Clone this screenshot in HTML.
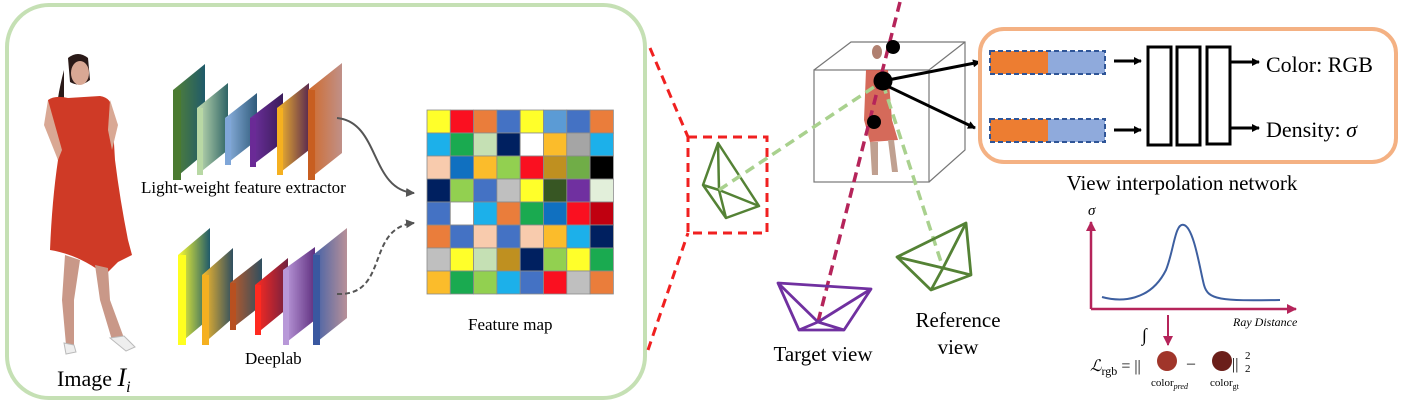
<!DOCTYPE html>
<html><head><meta charset="utf-8"><style>
html,body{margin:0;padding:0;background:#fff;}
svg{display:block;}
text{font-family:"Liberation Serif",serif;}
</style></head><body>
<svg width="1402" height="409" viewBox="0 0 1402 409" xmlns="http://www.w3.org/2000/svg">
<defs>
<linearGradient id="g1" x1="0" x2="1"><stop offset="0" stop-color="#548235"/><stop offset="1" stop-color="#1f5a6a"/></linearGradient>
<linearGradient id="g2" x1="0" x2="1"><stop offset="0" stop-color="#c5e0b4"/><stop offset="1" stop-color="#2f6466"/></linearGradient>
<linearGradient id="g3" x1="0" x2="1"><stop offset="0" stop-color="#8fb4e3"/><stop offset="1" stop-color="#2f5b7a"/></linearGradient>
<linearGradient id="g4" x1="0" x2="1"><stop offset="0" stop-color="#7030a0"/><stop offset="1" stop-color="#3a1c5a"/></linearGradient>
<linearGradient id="g5" x1="0" x2="1"><stop offset="0" stop-color="#fbbc2b"/><stop offset="1" stop-color="#5a2a50"/></linearGradient>
<linearGradient id="g6" x1="0" x2="1"><stop offset="0" stop-color="#d06a2a"/><stop offset="1" stop-color="#c09088"/></linearGradient>
<linearGradient id="h1" x1="0" x2="1"><stop offset="0" stop-color="#ffff30"/><stop offset="1" stop-color="#1f5a6a"/></linearGradient>
<linearGradient id="h2" x1="0" x2="1"><stop offset="0" stop-color="#fbbc2b"/><stop offset="1" stop-color="#2f4f60"/></linearGradient>
<linearGradient id="h3" x1="0" x2="1"><stop offset="0" stop-color="#c05a28"/><stop offset="1" stop-color="#2f4f60"/></linearGradient>
<linearGradient id="h4" x1="0" x2="1"><stop offset="0" stop-color="#ff2a20"/><stop offset="1" stop-color="#702040"/></linearGradient>
<linearGradient id="h5" x1="0" x2="1"><stop offset="0" stop-color="#c0a0e0"/><stop offset="1" stop-color="#603080"/></linearGradient>
<linearGradient id="h6" x1="0" x2="1"><stop offset="0" stop-color="#4060a8"/><stop offset="1" stop-color="#b89098"/></linearGradient>
<marker id="ab" markerWidth="8" markerHeight="8" refX="7" refY="4" orient="auto" markerUnits="userSpaceOnUse"><path d="M0,0 L8,4 L0,8 z" fill="#000"/></marker>
<marker id="ag" markerWidth="9" markerHeight="9" refX="8" refY="4.5" orient="auto" markerUnits="userSpaceOnUse"><path d="M0,0 L9,4.5 L0,9 z" fill="#555"/></marker>
<marker id="ar" markerWidth="10" markerHeight="10" refX="9" refY="5" orient="auto" markerUnits="userSpaceOnUse"><path d="M0,0 L10,5 L0,10 z" fill="#b5245a"/></marker>
</defs>

<!-- green panel -->
<rect x="7" y="5" width="638" height="393" rx="42" fill="none" stroke="#c5e0b4" stroke-width="4"/>

<!-- woman -->
<g>
<path d="M68,58 Q78,50 88,58 L90,80 Q80,88 70,82 Z" fill="#2a1a18"/>
<path d="M64,70 Q60,85 58,98 L64,98 Z" fill="#2a1a18"/>
<ellipse cx="80" cy="73" rx="9" ry="12" fill="#d9a894"/>
<path d="M48,100 Q55,95 68,98 L100,96 Q112,98 112,110 L115,160 Q120,200 128,240 L132,255 L118,262 L105,275 Q80,255 50,250 Q52,200 58,160 Q48,130 48,100 Z" fill="#cf3a26"/>
<path d="M48,100 L44,125 L58,160 L62,150 Z" fill="#d9a894"/>
<path d="M110,100 L118,125 L112,150 L108,130 Z" fill="#d9a894"/>
<path d="M65,255 L62,300 L66,345 L74,345 L74,300 L80,260 Z" fill="#c99888"/>
<path d="M95,265 L100,300 L112,340 L120,345 L124,338 L110,300 L108,268 Z" fill="#c99888"/>
<path d="M64,343 L74,345 L76,352 L66,354 Z" fill="#eee" stroke="#bbb" stroke-width="1"/>
<path d="M110,338 L124,336 L135,347 L126,351 Z" fill="#eee" stroke="#bbb" stroke-width="1"/>
</g>
<text x="57" y="386" font-size="22" fill="#000">Image <tspan font-style="italic" font-size="26">I</tspan><tspan font-style="italic" font-size="16" dy="6">i</tspan></text>

<!-- top extractor layers -->
<polygon points="173,180 173,90 205,64 205,153" fill="url(#g1)"/>
<rect x="173" y="90" width="8" height="90" fill="#4a7a30"/>
<polygon points="197,175 197,108 228,83 228,150" fill="url(#g2)"/>
<rect x="197" y="108" width="6" height="67" fill="#b8d8a4"/>
<polygon points="225,165 225,118 257,93 257,140" fill="url(#g3)"/>
<rect x="225" y="118" width="6" height="47" fill="#7fa6d8"/>
<polygon points="250,167 250,118 283,93 283,142" fill="url(#g4)"/>
<rect x="250" y="118" width="6" height="49" fill="#6a2a96"/>
<polygon points="277,175 277,108 309,83 309,150" fill="url(#g5)"/>
<rect x="277" y="108" width="6" height="67" fill="#f5b020"/>
<polygon points="308,180 308,90 342,63 342,153" fill="url(#g6)"/>
<rect x="308" y="90" width="7" height="90" fill="#c85e20"/>
<text x="141" y="193" font-size="17" fill="#000">Light-weight feature extractor</text>

<!-- bottom deeplab layers -->
<polygon points="178,345 178,255 210,228 210,318" fill="url(#h1)"/>
<rect x="178" y="255" width="8" height="90" fill="#ffff20"/>
<polygon points="202,345 202,275 233,248 233,318" fill="url(#h2)"/>
<rect x="202" y="275" width="7" height="70" fill="#f5b020"/>
<polygon points="230,330 230,283 262,258 262,305" fill="url(#h3)"/>
<rect x="230" y="283" width="6" height="47" fill="#b85020"/>
<polygon points="255,335 255,285 288,258 288,308" fill="url(#h4)"/>
<rect x="255" y="285" width="6" height="50" fill="#ff2a20"/>
<polygon points="283,345 283,270 315,247 315,320" fill="url(#h5)"/>
<rect x="283" y="270" width="6" height="75" fill="#b898d8"/>
<polygon points="313,345 313,255 347,228 347,318" fill="url(#h6)"/>
<rect x="313" y="255" width="7" height="90" fill="#3a58a0"/>
<text x="245" y="364" font-size="17" fill="#000">Deeplab</text>

<!-- arrows to feature map -->
<path d="M337,118 C380,122 370,190 414,193" fill="none" stroke="#555" stroke-width="2" marker-end="url(#ag)"/>
<path d="M337,294 C390,296 365,228 414,223" fill="none" stroke="#555" stroke-width="2" stroke-dasharray="5,3" marker-end="url(#ag)"/>

<!-- feature map grid -->
<g stroke="#8a8a8a" stroke-width="0.8">
<g id="grid"></g>
</g>
<text x="468" y="330" font-size="17" fill="#000">Feature map</text>

<!-- red dashed zoom -->
<line x1="650" y1="48" x2="688" y2="137" stroke="#f02020" stroke-width="3" stroke-dasharray="9,6"/>
<line x1="648" y1="350" x2="688" y2="233" stroke="#f02020" stroke-width="3" stroke-dasharray="9,6"/>
<rect x="688" y="137" width="79" height="96" fill="none" stroke="#f02020" stroke-width="3" stroke-dasharray="9,6"/>
<g fill="none" stroke="#548235" stroke-width="2.5" stroke-linejoin="round">
<polygon points="718,143 703,185 726,218 759,206"/>
<line x1="718" y1="143" x2="719" y2="190"/><line x1="703" y1="185" x2="719" y2="190"/><line x1="726" y1="218" x2="719" y2="190"/><line x1="759" y1="206" x2="719" y2="190"/>
</g>

<!-- cube -->
<g fill="none" stroke="#777" stroke-width="1.2">
<rect x="814" y="70" width="115" height="112"/>
<polyline points="814,70 851,42 965,42 965,150 929,182"/>
<line x1="929" y1="70" x2="965" y2="42"/>
</g>
<!-- small figure -->
<ellipse cx="877" cy="52" rx="5" ry="7" fill="#b08070"/>
<path d="M866,70 L888,70 L892,120 L898,140 L870,142 L864,120 Z" fill="#d05a48" opacity="0.9"/>
<path d="M870,142 L872,175 L878,175 L878,142 Z M888,140 L892,172 L898,172 L894,140 Z" fill="#c0a090"/>

<!-- rays -->
<line x1="900" y1="2" x2="818" y2="322" stroke="#b5245a" stroke-width="3.5" stroke-dasharray="10,6"/>
<line x1="719" y1="190" x2="883" y2="81" stroke="#a9d18e" stroke-width="3.5" stroke-dasharray="10,6"/>
<line x1="883" y1="84" x2="943" y2="268" stroke="#a9d18e" stroke-width="3.5" stroke-dasharray="10,6"/>
<circle cx="893" cy="47" r="7" fill="#000"/>
<circle cx="883" cy="81" r="9.5" fill="#000"/>
<circle cx="874" cy="122" r="7" fill="#000"/>
<line x1="883" y1="81" x2="980" y2="62" stroke="#000" stroke-width="3" marker-end="url(#ab)"/>
<line x1="883" y1="84" x2="975" y2="128" stroke="#000" stroke-width="3" marker-end="url(#ab)"/>

<!-- target camera -->
<g fill="none" stroke="#7030a0" stroke-width="2.8" stroke-linejoin="round">
<polygon points="778,283 871,289 844,330 799,330"/>
<line x1="778" y1="283" x2="818" y2="322"/><line x1="871" y1="289" x2="818" y2="322"/>
<line x1="799" y1="330" x2="818" y2="322"/><line x1="844" y1="330" x2="818" y2="322"/>
</g>
<text x="823" y="361" font-size="21" text-anchor="middle" fill="#000">Target view</text>
<!-- reference camera -->
<g fill="none" stroke="#548235" stroke-width="2.8" stroke-linejoin="round">
<polygon points="897,257 966,223 971,275 931,290"/>
<line x1="897" y1="257" x2="943" y2="268"/><line x1="966" y1="223" x2="943" y2="268"/>
<line x1="971" y1="275" x2="943" y2="268"/><line x1="931" y1="290" x2="943" y2="268"/>
</g>
<text x="958" y="327" font-size="21" text-anchor="middle" fill="#000">Reference</text>
<text x="958" y="354" font-size="21" text-anchor="middle" fill="#000">view</text>

<!-- view interpolation network -->
<rect x="980" y="29" width="416" height="133" rx="24" fill="none" stroke="#f4b183" stroke-width="4"/>
<rect x="990" y="51" width="58" height="23" fill="#ed7d31"/>
<rect x="1048" y="51" width="57" height="23" fill="#8faadc"/>
<rect x="990" y="51" width="115" height="23" fill="none" stroke="#2f5597" stroke-width="2" stroke-dasharray="5,3"/>
<rect x="990" y="119" width="58" height="23" fill="#ed7d31"/>
<rect x="1048" y="119" width="57" height="23" fill="#8faadc"/>
<rect x="990" y="119" width="115" height="23" fill="none" stroke="#2f5597" stroke-width="2" stroke-dasharray="5,3"/>
<line x1="1114" y1="61" x2="1141" y2="61" stroke="#000" stroke-width="3" marker-end="url(#ab)"/>
<line x1="1114" y1="130" x2="1141" y2="130" stroke="#000" stroke-width="3" marker-end="url(#ab)"/>
<g fill="none" stroke="#000" stroke-width="3">
<rect x="1148" y="47" width="23" height="98"/>
<rect x="1177" y="47" width="23" height="98"/>
<rect x="1207" y="47" width="23" height="97"/>
</g>
<line x1="1230" y1="62" x2="1259" y2="62" stroke="#000" stroke-width="3" marker-end="url(#ab)"/>
<line x1="1230" y1="128" x2="1259" y2="128" stroke="#000" stroke-width="3" marker-end="url(#ab)"/>
<text x="1266" y="72" font-size="22" fill="#000">Color: RGB</text>
<text x="1266" y="137" font-size="22" fill="#000">Density: <tspan font-style="italic">σ</tspan></text>
<text x="1182" y="190" font-size="21" text-anchor="middle" fill="#000">View interpolation network</text>

<!-- graph -->
<line x1="1091" y1="309" x2="1091" y2="222" stroke="#b5245a" stroke-width="2.5" marker-end="url(#ar)"/>
<line x1="1091" y1="309" x2="1296" y2="309" stroke="#b5245a" stroke-width="2.5" marker-end="url(#ar)"/>
<text x="1088" y="215" font-size="15" font-style="italic" fill="#000">σ</text>
<path d="M1102,297 C1120,302 1150,302 1166,270 C1174,250 1175,222 1184,225 C1194,228 1200,270 1204,285 C1208,300 1220,301 1280,300" fill="none" stroke="#3d5fa0" stroke-width="2"/>
<text x="1233" y="326" font-size="12" font-style="italic" fill="#000">Ray Distance</text>
<text x="1142" y="341" font-size="18" fill="#000">∫</text>
<line x1="1168" y1="315" x2="1168" y2="345" stroke="#b5245a" stroke-width="2" marker-end="url(#ar)"/>
<text x="1090" y="371" font-size="16" font-style="italic" fill="#000">ℒ<tspan font-style="normal" font-size="12" dy="4">rgb</tspan><tspan font-style="normal" font-size="16" dy="-4"> = ||</tspan></text>
<circle cx="1167" cy="361" r="10" fill="#a0352a"/>
<text x="1187" y="368" font-size="16" fill="#000">–</text>
<circle cx="1222" cy="361" r="10" fill="#6b1f1a"/>
<text x="1232" y="369" font-size="16" fill="#000">||</text>
<text x="1245" y="359" font-size="11" fill="#000">2</text>
<text x="1245" y="372" font-size="11" fill="#000">2</text>
<text x="1151" y="386" font-size="11" fill="#000">color<tspan font-size="8" font-style="italic" dy="3">pred</tspan></text>
<text x="1210" y="386" font-size="11" fill="#000">color<tspan font-size="8" dy="3">gt</tspan></text>

<!-- grid cells -->
<g stroke="#8a8a8a" stroke-width="0.8">
<rect x="427.0" y="110.0" width="23.3" height="23" fill="#ffff2a"/><rect x="450.3" y="110.0" width="23.3" height="23" fill="#fa1020"/><rect x="473.6" y="110.0" width="23.3" height="23" fill="#ea7d3b"/><rect x="496.9" y="110.0" width="23.3" height="23" fill="#4472c4"/><rect x="520.2" y="110.0" width="23.3" height="23" fill="#ffff2a"/><rect x="543.5" y="110.0" width="23.3" height="23" fill="#5b9bd5"/><rect x="566.8" y="110.0" width="23.3" height="23" fill="#4472c4"/><rect x="590.1" y="110.0" width="23.3" height="23" fill="#ea7d3b"/>
<rect x="427.0" y="133.0" width="23.3" height="23" fill="#1cb0ea"/><rect x="450.3" y="133.0" width="23.3" height="23" fill="#1aaa50"/><rect x="473.6" y="133.0" width="23.3" height="23" fill="#c5e0b4"/><rect x="496.9" y="133.0" width="23.3" height="23" fill="#002060"/><rect x="520.2" y="133.0" width="23.3" height="23" fill="#ffffff"/><rect x="543.5" y="133.0" width="23.3" height="23" fill="#fbbc2b"/><rect x="566.8" y="133.0" width="23.3" height="23" fill="#a5a5a5"/><rect x="590.1" y="133.0" width="23.3" height="23" fill="#1cb0ea"/>
<rect x="427.0" y="156.0" width="23.3" height="23" fill="#f8cbad"/><rect x="450.3" y="156.0" width="23.3" height="23" fill="#1070c0"/><rect x="473.6" y="156.0" width="23.3" height="23" fill="#fbbc2b"/><rect x="496.9" y="156.0" width="23.3" height="23" fill="#92d050"/><rect x="520.2" y="156.0" width="23.3" height="23" fill="#fa1020"/><rect x="543.5" y="156.0" width="23.3" height="23" fill="#bf9020"/><rect x="566.8" y="156.0" width="23.3" height="23" fill="#70ad47"/><rect x="590.1" y="156.0" width="23.3" height="23" fill="#000000"/>
<rect x="427.0" y="179.0" width="23.3" height="23" fill="#002060"/><rect x="450.3" y="179.0" width="23.3" height="23" fill="#92d050"/><rect x="473.6" y="179.0" width="23.3" height="23" fill="#4472c4"/><rect x="496.9" y="179.0" width="23.3" height="23" fill="#bfbfbf"/><rect x="520.2" y="179.0" width="23.3" height="23" fill="#ffff2a"/><rect x="543.5" y="179.0" width="23.3" height="23" fill="#375623"/><rect x="566.8" y="179.0" width="23.3" height="23" fill="#7030a0"/><rect x="590.1" y="179.0" width="23.3" height="23" fill="#e2efda"/>
<rect x="427.0" y="202.0" width="23.3" height="23" fill="#4472c4"/><rect x="450.3" y="202.0" width="23.3" height="23" fill="#ffffff"/><rect x="473.6" y="202.0" width="23.3" height="23" fill="#1cb0ea"/><rect x="496.9" y="202.0" width="23.3" height="23" fill="#ea7d3b"/><rect x="520.2" y="202.0" width="23.3" height="23" fill="#1aaa50"/><rect x="543.5" y="202.0" width="23.3" height="23" fill="#1070c0"/><rect x="566.8" y="202.0" width="23.3" height="23" fill="#fa1020"/><rect x="590.1" y="202.0" width="23.3" height="23" fill="#c00010"/>
<rect x="427.0" y="225.0" width="23.3" height="23" fill="#ea7d3b"/><rect x="450.3" y="225.0" width="23.3" height="23" fill="#4472c4"/><rect x="473.6" y="225.0" width="23.3" height="23" fill="#f8cbad"/><rect x="496.9" y="225.0" width="23.3" height="23" fill="#4472c4"/><rect x="520.2" y="225.0" width="23.3" height="23" fill="#f8cbad"/><rect x="543.5" y="225.0" width="23.3" height="23" fill="#fbbc2b"/><rect x="566.8" y="225.0" width="23.3" height="23" fill="#1cb0ea"/><rect x="590.1" y="225.0" width="23.3" height="23" fill="#002060"/>
<rect x="427.0" y="248.0" width="23.3" height="23" fill="#bfbfbf"/><rect x="450.3" y="248.0" width="23.3" height="23" fill="#ffff2a"/><rect x="473.6" y="248.0" width="23.3" height="23" fill="#c5e0b4"/><rect x="496.9" y="248.0" width="23.3" height="23" fill="#bf9020"/><rect x="520.2" y="248.0" width="23.3" height="23" fill="#002060"/><rect x="543.5" y="248.0" width="23.3" height="23" fill="#92d050"/><rect x="566.8" y="248.0" width="23.3" height="23" fill="#ffff2a"/><rect x="590.1" y="248.0" width="23.3" height="23" fill="#1aaa50"/>
<rect x="427.0" y="271.0" width="23.3" height="23" fill="#fbbc2b"/><rect x="450.3" y="271.0" width="23.3" height="23" fill="#1aaa50"/><rect x="473.6" y="271.0" width="23.3" height="23" fill="#92d050"/><rect x="496.9" y="271.0" width="23.3" height="23" fill="#1cb0ea"/><rect x="520.2" y="271.0" width="23.3" height="23" fill="#4472c4"/><rect x="543.5" y="271.0" width="23.3" height="23" fill="#fa1020"/><rect x="566.8" y="271.0" width="23.3" height="23" fill="#bfbfbf"/><rect x="590.1" y="271.0" width="23.3" height="23" fill="#ea7d3b"/>
</g>
</svg>
</body></html>
